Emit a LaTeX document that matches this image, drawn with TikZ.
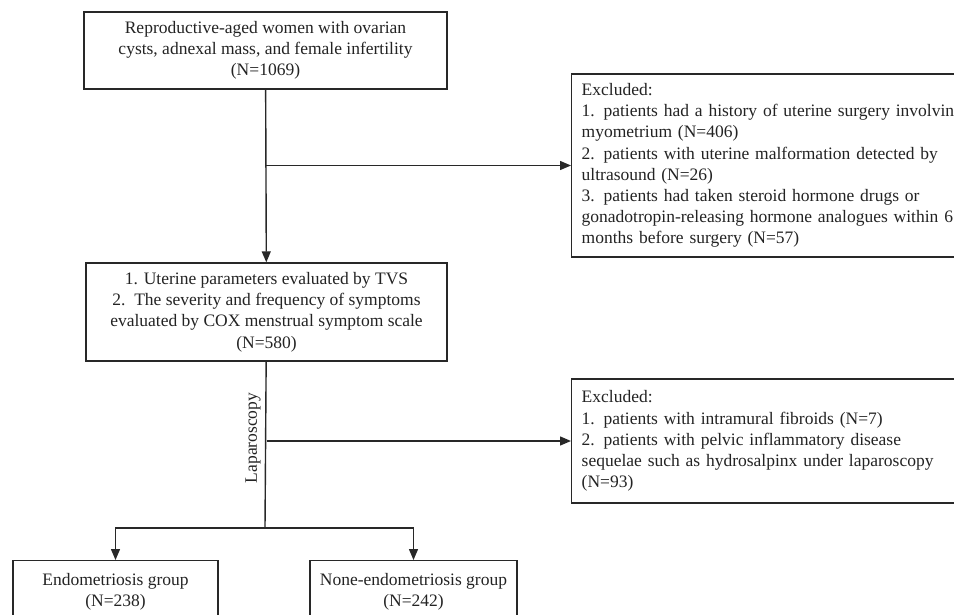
\documentclass[tikz,border=0pt]{standalone}
\usepackage{fontspec}
\setmainfont{Liberation Serif}
\usetikzlibrary{arrows.meta, positioning, calc}
\definecolor{linecol}{RGB}{40,40,40}
\definecolor{textcol}{RGB}{35,35,35}
\newcommand{\flowfont}{\fontsize{17.5}{21.2}\selectfont}
\tikzset{
  box/.style    = {draw=linecol, line width=1.4pt, align=center, inner sep=0pt,
                   text=textcol, font=\flowfont},
  exbox/.style  = {draw=linecol, line width=1.4pt, align=left, anchor=west,
                   text width=440pt, inner xsep=10pt, inner ysep=0pt,
                   text=textcol, font=\flowfont},
  arrow/.style  = {-{Triangle[length=11pt, width=9pt]}, line width=1.4pt, color=linecol},
  line/.style   = {line width=1.4pt, color=linecol},
}

\begin{document}
\begin{tikzpicture}[x=1pt, y=-1pt]
  \useasboundingbox (0,0) rectangle (954,614);
  \clip (0,0) rectangle (954,614);
  % main column
  \node[box, minimum width=363pt, minimum height=77pt] (start) at (265.5,50.5)
    {Reproductive-aged women with ovarian\\cysts, adnexal mass, and female infertility\\(N=1069)};
  \node[box, minimum width=361pt, minimum height=98pt] (eval) at (266.5,312)
    {1. Uterine parameters evaluated by TVS\\2.\ \ The severity and frequency of symptoms\\evaluated by COX menstrual symptom scale\\(N=580)};
  % excluded
  \node[exbox, minimum height=183pt] (excl1) at (571,165.5)
    {Excluded:\\1. patients had a history of uterine surgery involving\\myometrium (N=406)\\2. patients with uterine malformation detected by\\ultrasound (N=26)\\3. patients had taken steroid hormone drugs or\\gonadotropin-releasing hormone analogues within 6\\months before surgery (N=57)};
  \node[exbox, minimum height=124pt] (excl2) at (571,441)
    {Excluded:\\1. patients with intramural fibroids (N=7)\\2. patients with pelvic inflammatory disease\\sequelae such as hydrosalpinx under laparoscopy\\(N=93)};
  % groups
  \foreach \nm/\x/\w/\txt in {endo/115.5/205/Endometriosis group\\(N=238),
                              nonendo/413.5/207/None-endometriosis group\\(N=242)} {
    \node[box, anchor=north, minimum width=\w pt, minimum height=62pt] (\nm) at (\x,560) {\txt};
  }
  \coordinate (split) at (265,528);
  % connectors
  \draw[arrow] (start) -- (eval);
  \draw[arrow] (start.south |- excl1.west) -- (excl1.west);
  \draw[line] (eval) -- (split);
  \draw[arrow] (eval.south |- excl2.west) -- (excl2.west);
  \node[rotate=90, text=textcol, font=\flowfont] (lap) at (253,438) {Laparoscopy};
  \foreach \nd in {endo, nonendo} {
    \draw[arrow] (split) -| (\nd.north);
  }
\end{tikzpicture}
\end{document}
